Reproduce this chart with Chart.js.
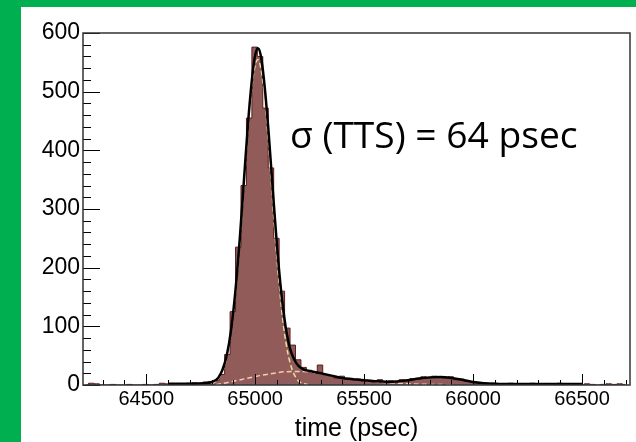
<!DOCTYPE html>
<html><head><meta charset="utf-8">
<script src="https://cdn.jsdelivr.net/npm/chart.js@4/dist/chart.umd.min.js"></script>
<style>
html,body{margin:0;padding:0;background:#00b050;width:636px;height:442px;overflow:hidden}
#panel{position:absolute;left:21px;top:7px;width:615px;height:435px;background:#fff}
canvas{display:block}
</style></head><body>
<div id="panel"><canvas id="c" width="615" height="435"></canvas></div>
<script>
// Histogram bin centres (psec), 25 psec bins
const binCenters = [
64222.5,64247.5,64272.5,64297.5,64322.5,64347.5,64372.5,64397.5,64422.5,64447.5,
64472.5,64497.5,64522.5,64547.5,64572.5,64597.5,64622.5,64647.5,64672.5,64697.5,
64722.5,64747.5,64772.5,64797.5,64822.5,64847.5,64872.5,64897.5,64922.5,64947.5,
64972.5,64997.5,65022.5,65047.5,65072.5,65097.5,65122.5,65147.5,65172.5,65197.5,
65222.5,65247.5,65272.5,65297.5,65322.5,65347.5,65372.5,65397.5,65422.5,65447.5,
65472.5,65497.5,65522.5,65547.5,65572.5,65597.5,65622.5,65647.5,65672.5,65697.5,
65722.5,65747.5,65772.5,65797.5,65822.5,65847.5,65872.5,65897.5,65922.5,65947.5,
65972.5,65997.5,66022.5,66047.5,66072.5,66097.5,66122.5,66147.5,66172.5,66197.5,
66222.5,66247.5,66272.5,66297.5,66322.5,66347.5,66372.5,66397.5,66422.5,66447.5,
66472.5,66497.5,66522.5,66547.5,66572.5,66597.5,66622.5,66647.5,66672.5,66697.5];
const binCounts = [
0,3,2,0,0,1,0,0,1,0,
0,1,0,1,3,2,1,2,1,3,
4,3,5,6,8,18,52,125,235,340,
455,576,560,472,370,250,160,97,68,43,
30,25,20,34,18,16,12,15,10,9,
10,7,8,5,9,5,7,6,9,8,
11,10,14,12,15,13,12,14,9,10,
6,5,3,4,2,3,2,1,3,2,
1,2,3,1,2,1,2,3,1,2,
1,0,2,1,0,1,2,1,2,1];

// Total fit
const fitX = [64600,64700,64760,64800,64830,64850,64870,64890,64910,64930,64950,64970,64990,65000,65012,65025,65040,65060,65080,65100,65120,65140,65160,65180,65200,65225,65250,65300,65350,65400,65450,65500,65550,65600,65650,65700,65750,65800,65850,65900,65950,66000,66050,66100,66200,66300,66400,66500];
const fitY = [2,2,3,5,12,26,51,95,163,252,357,459,537,562,574,563,522,439,337,238,157,99,62,43,32,26,24,20,16,12,10,8,6.5,5.5,6,8,11,13,13.5,12,9,5,3,2,1.5,1.5,1.5,1.5];

// Main gaussian component (dashed)
const gaussX = [64800,64830,64850,64870,64890,64910,64930,64950,64970,64990,65012,65030,65050,65070,65090,65110,65130,65150,65170,65190,65210,65240];
const gaussY = [2,10,23,47,90,156,244,347,447,523,555,531,464,368,262,172,101,54,26,11,4,1];

// Late tail component (dashed)
const tailX = [64820,64870,64920,64970,65020,65070,65120,65170,65220,65270,65320,65370,65420,65470,65520,65570,65620,65700,65800,65900];
const tailY = [0.5,4,8,12,16,19,22,23,23,21,18,15,11,9,7,5,4,2,1,0.5];

// Flat background (dashed)
const bgX = [64600,66500];
const bgY = [1,1];

const xTicks = [64500,65000,65500,66000,66500];
const yTicks = [0,100,200,300,400,500,600];
const xMinorTicks = [64300,64400,64500,64600,64700,64800,64900,65000,65100,65200,65300,65400,65500,65600,65700,65800,65900,66000,66100,66200,66300,66400,66500,66600,66700];
const yMinorTicks = [0,20,40,60,80,100,120,140,160,180,200,220,240,260,280,300,320,340,360,380,400,420,440,460,480,500,520,540,560,580,600];
const annotation = 'σ (TTS) = 64 psec';

const pts = (xs, ys) => xs.map((x,i)=>({x:x, y:ys[i]}));

const framePlugin = {
  id:'frame',
  afterDatasetsDraw(chart){
    const {ctx, chartArea:a, scales:{x,y}} = chart;
    ctx.save();
    ctx.strokeStyle='#000'; ctx.lineWidth=1;
    ctx.beginPath();
    for (const v of yMinorTicks){
      const p = Math.round(y.getPixelForValue(v))+0.5;
      const L = (v%100===0)?17:8;
      ctx.moveTo(a.left,p); ctx.lineTo(a.left+L,p);
    }
    for (const v of xMinorTicks){
      const p = Math.round(x.getPixelForValue(v))+0.5;
      const L = (v%500===0)?11:5;
      ctx.moveTo(p,a.bottom); ctx.lineTo(p,a.bottom-L);
    }
    ctx.stroke();
    ctx.lineWidth=1.5; ctx.strokeStyle='#333';
    ctx.strokeRect(a.left, a.top, a.right-a.left, a.bottom-a.top);
    // annotation
    let size = 28;
    ctx.font = size+'px "Open Sans"';
    const w = ctx.measureText(annotation).width;
    size = size*288/w;
    ctx.font = size.toFixed(1)+'px "Open Sans"';
    ctx.fillStyle='#000';
    ctx.textBaseline='alphabetic';
    ctx.textAlign='left';
    ctx.fillText(annotation, 269, 141);
    ctx.restore();
  }
};

new Chart(document.getElementById('c'), {
  type:'line',
  data:{datasets:[
    {label:'fit', data:pts(fitX,fitY), borderColor:'#000', borderWidth:2.5, pointRadius:0, cubicInterpolationMode:'monotone', fill:false, order:0},
    {label:'gauss', data:pts(gaussX,gaussY), borderColor:'#eedc9c', borderWidth:1.5, borderDash:[5,3], pointRadius:0, cubicInterpolationMode:'monotone', fill:false, order:1},
    {label:'tail', data:pts(tailX,tailY), borderColor:'#f2cfb2', borderWidth:1.5, borderDash:[5,3], pointRadius:0, cubicInterpolationMode:'monotone', fill:false, order:2},
    {label:'bg', data:pts(bgX,bgY), borderColor:'rgba(110,110,255,0.55)', borderWidth:1.5, borderDash:[2,2], pointRadius:0, fill:false, order:3},
    {label:'hist', data:pts(binCenters,binCounts), borderColor:'#5a1c1c', borderWidth:1, backgroundColor:'rgb(145,91,89)', stepped:'middle', pointRadius:0, fill:'origin', order:4}
  ]},
  options:{
    responsive:false, animation:false, devicePixelRatio:1,
    layout:{padding:{top:26,right:6,left:0,bottom:0}},
    plugins:{legend:{display:false}, tooltip:{enabled:false}},
    scales:{
      x:{type:'linear', min:64210, max:66720,
        afterBuildTicks:s=>{s.ticks = xTicks.map(v=>({value:v}));},
        afterFit:s=>{s.height=57;},
        grid:{display:false, drawTicks:false}, border:{display:false},
        ticks:{font:{family:'Liberation Sans', size:20}, color:'#000', padding:2, maxRotation:0, autoSkip:false, callback:v=>String(v)},
        title:{display:true, text:'time (psec)', font:{family:'Liberation Sans', size:25, lineHeight:1}, color:'#000', padding:0}
      },
      y:{min:0, max:600,
        afterBuildTicks:s=>{s.ticks = yTicks.map(v=>({value:v}));},
        afterFit:s=>{s.width=62;},
        grid:{display:false, drawTicks:false}, border:{display:false},
        ticks:{font:{family:'Liberation Sans', size:23}, color:'#000', padding:3, autoSkip:false, callback:v=>String(v)}
      }
    }
  },
  plugins:[framePlugin]
});
</script>
</body></html>
